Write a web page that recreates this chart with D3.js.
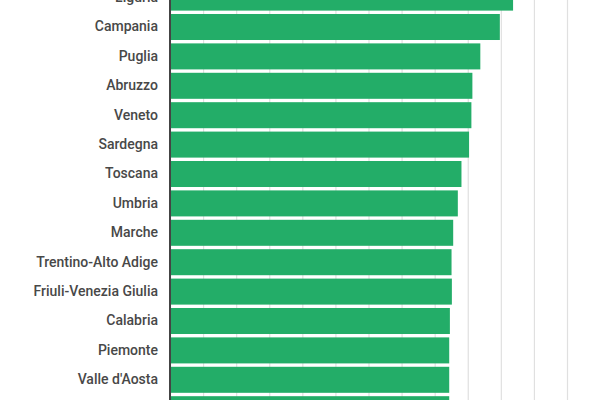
<!DOCTYPE html>
<html>
<head>
<meta charset="utf-8">
<script src="https://cdn.jsdelivr.net/npm/d3@7"></script>
<style>
  body { margin: 0; background: #fff; }
  svg { display: block; }
</style>
</head>
<body>
<svg></svg>
<script>
// regioni visibili nel ritaglio (la prima e l'ultima sono tagliate)
let regions = ["Liguria", "Campania", "Puglia", "Abruzzo", "Veneto", "Sardegna", "Toscana",
               "Umbria", "Marche", "Trentino-Alto Adige", "Friuli-Venezia Giulia",
               "Calabria", "Piemonte", "Valle d'Aosta", "Lombardia"];
let values = [10.37, 9.97, 9.38, 9.14, 9.11, 9.04, 8.81, 8.70, 8.56, 8.51, 8.52, 8.46, 8.44, 8.44, 8.44];
let gridTicks = [0, 1, 2, 3, 4, 5, 6, 7, 8, 9, 10, 11, 12];

let width = 600;
let height = 400;
let left = 170;
let right = 567;

let svg = d3.select("svg")
    .attr("width", width)
    .attr("height", height);

let xScale = d3.scaleLinear()
    .domain([0, 12])
    .range([left, right]);

let yScale = d3.scaleBand()
    .domain(regions)
    .range([-17.1, 423.9])
    .paddingInner(0.115)
    .paddingOuter(0.0575);

// griglia verticale
svg.append("g")
   .attr("class", "grid")
   .attr("transform", "translate(0," + height + ")")
   .call(d3.axisBottom(xScale).tickValues(gridTicks).tickSize(-height - 20).tickFormat(""))
   .call(g => g.select(".domain").remove())
   .call(g => g.selectAll("line").attr("stroke", "#e0e0e0").attr("stroke-width", 1.2));

svg.selectAll("rect.bar")
   .data(values)
   .enter()
   .append("rect")
   .attr("class", "bar")
   .attr("x", xScale(0))
   .attr("y", (d, i) => yScale(regions[i]))
   .attr("width", d => xScale(d) - xScale(0))
   .attr("height", yScale.bandwidth())
   .attr("fill", "#23ad68");

// asse delle categorie
let yAxis = d3.axisLeft(yScale).tickSize(0).tickPadding(12);
svg.append("g")
   .attr("transform", "translate(" + left + ",0)")
   .call(yAxis)
   .call(g => g.select(".domain").attr("stroke", "#444").attr("stroke-width", 2).attr("d", "M0,-20V" + (height + 20)))
   .call(g => g.selectAll("text")
       .attr("fill", "#484848")
       .style("font-family", "Roboto, sans-serif")
       .style("font-size", "14px")
       .style("font-weight", 500));
</script>
</body>
</html>
